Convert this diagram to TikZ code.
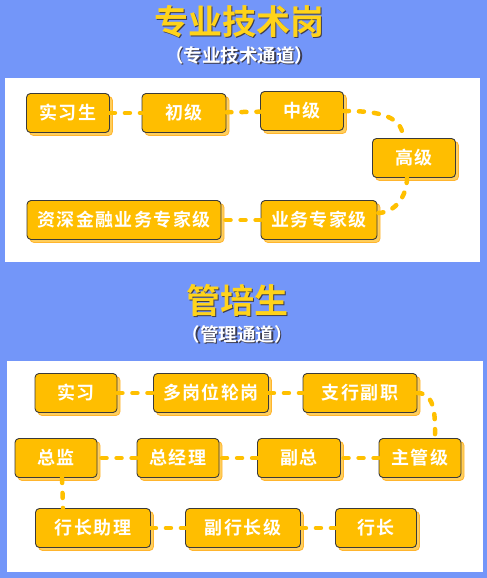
\documentclass[tikz,border=0pt]{standalone}
\usepackage{fontspec}
\usepackage{tikz}
\usetikzlibrary{shadows}
\newfontfamily\cjk{Noto Sans CJK SC Bold}
\newfontfamily\cjkbox{Noto Sans CJK SC Bold}[LetterSpace=8]
\definecolor{bgblue}{HTML}{7396F9}
\definecolor{titleyel}{HTML}{FFD31A}
\definecolor{boxfill}{HTML}{FFBE00}
\definecolor{boxedge}{HTML}{3A3A3A}
\definecolor{shfill}{HTML}{FFCE5C}
\definecolor{shedge}{HTML}{FFB52E}
\definecolor{linkcol}{HTML}{FFC000}
\definecolor{txtshade}{HTML}{3C3C50}
\newcommand\shadowed[2]{\makebox[0pt][l]{\kern1.8pt\raisebox{-1.8pt}{\color{txtshade}#2}}{\color{#1}#2}}

\begin{document}
\begin{tikzpicture}[x=1pt, y=-1pt,
    stage/.style={draw=boxedge, line width=0.9pt, fill=boxfill, rounded corners=4pt,
        minimum height=39pt, inner sep=0pt, text=white, font=\cjkbox\fontsize{18}{18}\selectfont,
        copy shadow={shadow xshift=3pt, shadow yshift=-3pt, fill=shfill, draw=shedge, line width=0.8pt}},
    link/.style={draw=linkcol, line width=4.5pt, line cap=round, dash pattern=on 5pt off 10pt},
    bigtitle/.style={font=\cjk\fontsize{34}{34}\selectfont, inner sep=0pt},
    subtitle/.style={font=\cjk\fontsize{18.5}{18.5}\selectfont, inner sep=0pt}]
    \useasboundingbox (0,0) rectangle (487,578);
    \fill[bgblue] (0,0) rectangle (487,578);
    \fill[white] (5,78) rectangle (480,262);
    \fill[white] (7,361) rectangle (483,572);

    % titles
    \node[bigtitle] (t1) at (239,22) {\shadowed{titleyel}{专业技术岗}};
    \node[subtitle] (s1) at (239,56) {\shadowed{white}{（专业技术通道）}};
    \node[bigtitle] (t2) at (237,301) {\shadowed{titleyel}{管培生}};
    \node[subtitle] (s2) at (237,335) {\shadowed{white}{（管理通道）}};

    % professional track
    \node[stage, minimum width=83pt] (intern) at (68,113) {实习生};
    \node[stage, minimum width=84pt] (junior) at (184,113) {初级};
    \node[stage, minimum width=83pt] (middle) at (302,111) {中级};
    \node[stage, minimum width=83pt] (senior) at (414,158) {高级};
    \node[stage, minimum width=116pt] (expert) at (319,220) {业务专家级};
    \node[stage, minimum width=194pt] (topexp) at (124,220) {资深金融业务专家级};

    \draw[link] (intern) -- (junior);
    \draw[link] (junior) -- (middle);
    \draw[link] (middle.east) to[out=0, in=90] ([xshift=-11pt]senior.north);
    \draw[link] ([xshift=-7pt]senior.south) to[out=-90, in=0] ([yshift=7pt]expert.east);
    \draw[link] (expert) -- (topexp);

    % management track
    \node[stage, minimum width=82pt] (trainee) at (76,393) {实习};
    \node[stage, minimum width=115pt] (rotate) at (211,393) {多岗位轮岗};
    \node[stage, minimum width=114pt] (deputy) at (360,393) {支行副职};
    \node[stage, minimum width=82pt] (director) at (56,458) {总监};
    \node[stage, minimum width=82pt] (gm) at (178,458) {总经理};
    \node[stage, minimum width=83pt] (vp) at (299,458) {副总};
    \node[stage, minimum width=82pt] (lead) at (420,458) {主管级};
    \node[stage, minimum width=115pt] (assist) at (93,528) {行长助理};
    \node[stage, minimum width=115pt] (vicepres) at (243,528) {副行长级};
    \node[stage, minimum width=81pt] (pres) at (376,528) {行长};

    \draw[link] (trainee) -- (rotate);
    \draw[link] (rotate) -- (deputy);
    \draw[link] (deputy.east) to[out=0, in=90] ([xshift=15pt]lead.north);
    \draw[link] (lead) -- (vp);
    \draw[link] (vp) -- (gm);
    \draw[link] (gm) -- (director);
    \draw[link] ([xshift=6pt]director.south) -- ([xshift=-30pt]assist.north);
    \draw[link] (assist) -- (vicepres);
    \draw[link] (vicepres) -- (pres);
\end{tikzpicture}
\end{document}
